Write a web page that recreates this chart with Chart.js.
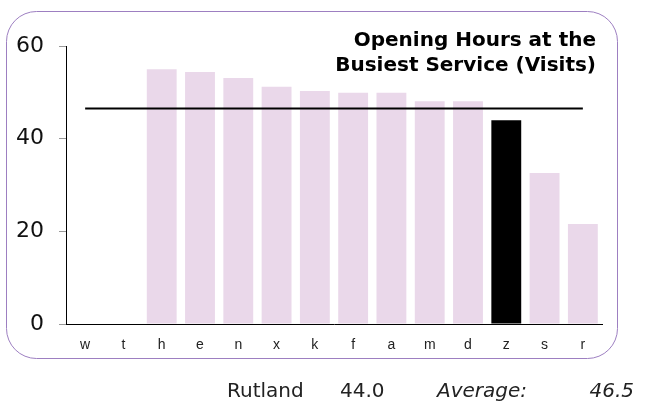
<!DOCTYPE html>
<html>
<head>
<meta charset="utf-8">
<script src="https://cdn.jsdelivr.net/npm/chart.js@4.4.0/dist/chart.umd.min.js"></script>
<style>
  html, body { margin: 0; padding: 0; background: #fff; }
  #wrap { width: 646px; height: 401px; position: relative; }
</style>
</head>
<body>
<div id="wrap"><canvas id="chart"></canvas></div>
<script>
// data
const categories = ['w', 't', 'h', 'e', 'n', 'x', 'k', 'f', 'a', 'm', 'd', 'z', 's', 'r'];
const visits = [null, null, 55.0, 54.4, 53.1, 51.2, 50.3, 49.9, 49.9, 48.1, 48.1, 44.0, 32.6, 21.6];
const averageValue = 46.5;
const highlighted = 'z';
const yTicks = [0, 20, 40, 60];
const titleLines = ['Opening Hours at the', 'Busiest Service (Visits)'];
const footerName = 'Rutland';
const footerValue = '44.0';

const barColors = categories.map(c => c === highlighted ? '#000000' : '#ead8ea');
const averageLine = categories.map(() => averageValue);

// rounded frame, title and footer text
const decorations = {
    id: 'decorations',
    beforeDraw(chart) {
        const ctx = chart.ctx;
        ctx.save();
        ctx.strokeStyle = '#9d7fc1';
        ctx.lineWidth = 1;
        ctx.beginPath();
        ctx.roundRect(6.5, 11.5, 611, 347, 30);
        ctx.stroke();
        ctx.restore();
    },
    afterDraw(chart) {
        const ctx = chart.ctx;
        ctx.save();
        ctx.fillStyle = '#000';
        ctx.textAlign = 'right';
        ctx.textBaseline = 'alphabetic';
        ctx.font = 'bold 20px "DejaVu Sans"';
        ctx.fillText(titleLines[0], 596, 46);
        ctx.fillText(titleLines[1], 596, 71);

        ctx.fillStyle = '#222';
        ctx.textAlign = 'left';
        ctx.font = '20px "DejaVu Sans"';
        ctx.fillText(footerName, 227, 397);
        ctx.fillText(footerValue, 340, 397);
        ctx.font = 'italic 20px "DejaVu Sans"';
        ctx.fillText('Average:', 437, 397);
        ctx.textAlign = 'right';
        ctx.fillText(averageValue.toFixed(1), 634, 397);
        ctx.restore();
    }
};

new Chart(document.getElementById('chart'), {
    data: {
        labels: categories,
        datasets: [{
            type: 'line',
            label: 'Average',
            data: averageLine,
            borderColor: '#000',
            borderWidth: 2,
            pointRadius: 0,
            fill: false,
            order: 0
        }, {
            type: 'bar',
            label: 'Visits',
            data: visits,
            backgroundColor: barColors,
            barPercentage: 0.78,
            categoryPercentage: 1,
            order: 1
        }]
    },
    options: {
        responsive: true,
        maintainAspectRatio: false,
        animation: false,
        layout: { padding: { top: 46, right: 44, bottom: 0, left: 0 } },
        plugins: {
            legend: { display: false },
            title: { display: false },
            tooltip: { enabled: false }
        },
        scales: {
            x: {
                grid: { display: true, drawOnChartArea: false, drawTicks: false },
                border: { display: true, color: '#000', width: 1 },
                ticks: { color: '#222', font: { family: 'Liberation Sans', size: 14 }, padding: 13 },
                afterFit(scale) { scale.height = 77; }
            },
            y: {
                min: 0,
                max: 60,
                afterBuildTicks(scale) { scale.ticks = yTicks.map(v => ({ value: v })); },
                grid: { drawOnChartArea: false, drawTicks: true, tickLength: 7, color: '#999' },
                border: { display: true, color: '#000', width: 1 },
                ticks: { color: '#111', font: { family: 'DejaVu Sans', size: 22 }, padding: 15 },
                afterFit(scale) { scale.width = 66; }
            }
        }
    },
    plugins: [decorations]
});
</script>
</body>
</html>
